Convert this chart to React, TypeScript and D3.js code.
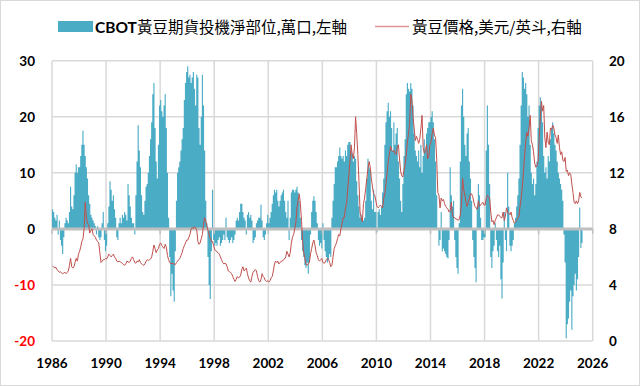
import React from "react";
import * as d3 from "d3";

// ---- DATA (monthly, starting Jan 1986) ----
const startYear = 1986;

// CBOT soybean speculative net position, 10k contracts (left axis)
const netPositions: number[] = [
  3.5, 3, 2, 1.5, 2.5, -1, 1.5, -2, -3, -4.5, -1.5, 1, // 1986
  2, 1.5, 1, 3, 7.5, 4, 3.5, 6, 10, 11.5, 10, 11, // 1987
  11, 13, 15, 17.5, 15, 13, 11, 9, 6, 4.5, 2.5, 2, // 1988
  1.5, 1, 0.5, -1, 0.5, -1.5, -2, -1.5, 1, 3, -2, -4, // 1989
  -3, 1, 4, 8.5, 7, 5, 6, 3.5, 2, -1.5, -2, 1, // 1990
  2, 1, 2.5, 2, 3, 2.5, 1.5, 8, 6, 4, 2, 1, // 1991
  1, -1, 6, 12, 18.5, 14, 11, 6, 3, 2.5, 5, 7.5, // 1992
  8, 10, 13, 16, 19, 24, 26, 18, 12, 9, 15, 22, // 1993
  23, 21, 20, 22, 24, 18, 10, 2, -5, -12, -8, -11, // 1994
  -13, -4, 5, 10, 11, 12, 14, 16, 18, 23, 26, 28, // 1995
  29, 27, 27.5, 26, 27, 28, 25, 22, 27.5, 27, 18, 15, // 1996
  20, 27.5, 22, 14, 5, 1, -5, -10, -12.5, -4, 7, -2, // 1997
  -3, -2.5, -3, -2, -1.5, -3, -2.5, -2, -1, -2, 2, -1.5, // 1998
  -2, -2.5, -2, -1.5, -2.5, -2, -1, 1.5, 2, 1.5, 3, 4.5, // 1999
  4.5, 3, 2, 1.5, -1, 2.5, 3, 2, 2.5, 1.5, -2.5, -2, // 2000
  -1.5, 1, 1.5, 2, 2, 4.3, 1.5, -1.5, -2, -1, 1, 2.5, // 2001
  1, 2, 3, 4.5, 6, 7, 6.5, 7, 5, 4, 5, 6, // 2002
  6.5, 7, 5, 3, 2, 5, -2, 2, 6.5, 7, 7, 6.5, // 2003
  7, 7.5, 6.5, 5, 2, -2, -4, -5, -6.5, -7, -6, -8, // 2004
  -6, -1, 3, 5, 5.8, 5, 3, 1, -2, -3, -2.5, -3.5, // 2005
  1, -2, -4, -5, -6, -5.5, -4.5, -5, 2, 5, 8, 11, // 2006
  11, 12, 13, 14.5, 13, 12.5, 13, 12, 14, 13, 15, 15.5, // 2007
  15.5, 14, 13.5, 12, 13, 12.5, 8.5, 6, 4, 2, 2.5, 2, // 2008
  1.5, 2, 5, 9, 12.5, 11, 10.5, 5, 3.5, 7, 3, 3, // 2009
  -0.5, 3, 3.5, 2.5, 4, 6.5, 9, 15, 19, 21, 22.5, 20, // 2010
  21, 18, 14, 19, 15, 17, 18, 12, 9, 5, 3, 8, // 2011
  13, 16, 24, 26, 25, 24.5, 26, 25, 22, 17, 14, 13, // 2012
  12, 14, 11, 15, 10, 13, 16, 14, 17, 18, 19, 19, // 2013
  20, 21, 19, 16, 12, 6, 0, -3, -2, 3, -4, -3.5, // 2014
  -4, -4.5, -5, -5.3, -2, 11, 6, 4, 5, -2, -5, -7, // 2015
  -8, 1, 12, 22, 25, 20, 15, 13, 17, 18, 12, 9, // 2016
  5, -2, -5, -7, -9.5, 4, 8, 6, 2, -2, -2, -1.5, // 2017
  -1.5, 14, 22, 15, 8, -5, -7, -4, -3, 1, -2, -4, // 2018
  -5, -3, -9, -12.4, -6, 3, -2, -4, 10, 4, -3, -4, // 2019
  -3, -2, 1, 2, 4, 6, 9, 15, 22, 28, 27, 25, // 2020
  26, 24, 20, 22, 15, 10, 8, 9, 6, 8, 12, 18, // 2021
  22, 23.5, 22, 19, 13, 10, 11, 9, 13, 12, 16, 18, // 2022
  19, 17, 15, 14, 12, 10, 9, 8, 7, 5, -1, -6, // 2023
  -19.5, -17, -16, -13, -11, -18, -12, -10, -8, -11, -9, -5, // 2024
  3.8, -3.4, -2.5, // 2025
];

// Soybean price, USD per bushel (right axis)
const soyPrices: number[] = [
  5.35, 5.3, 5.2, 5.25, 5.1, 5.0, 4.9, 4.95, 4.85, 4.8, 4.85, 4.9, // 1986
  4.8, 4.9, 5.0, 5.4, 5.9, 5.3, 5.2, 5.3, 5.6, 5.9, 5.7, 6.2, // 1987
  6.4, 6.7, 7.1, 7.3, 8.0, 9.9, 8.8, 8.4, 8.3, 7.7, 7.9, 8.0, // 1988
  7.6, 7.5, 7.4, 7.2, 7.1, 7.0, 6.3, 5.6, 5.7, 5.8, 5.8, 5.9, // 1989
  5.85, 6.0, 6.2, 6.1, 6.0, 6.1, 6.2, 6.0, 5.9, 5.7, 5.65, 5.7, // 1990
  5.65, 5.6, 5.55, 5.45, 5.4, 5.5, 5.7, 5.65, 5.6, 5.7, 5.9, 6.0, // 1991
  5.8, 5.6, 5.55, 5.7, 5.65, 5.8, 5.6, 5.5, 5.45, 5.4, 5.5, 5.7, // 1992
  5.8, 5.75, 5.8, 5.85, 6.0, 6.4, 6.85, 6.6, 6.3, 6.5, 6.6, 6.9, // 1993
  7.0, 6.8, 6.7, 6.6, 6.9, 6.7, 6.1, 5.8, 5.6, 5.5, 5.55, 5.5, // 1994
  5.5, 5.45, 5.6, 5.7, 5.8, 5.9, 6.1, 6.3, 6.6, 6.8, 7.0, 7.2, // 1995
  7.2, 7.4, 7.6, 8.0, 8.1, 8.0, 8.15, 8.1, 7.9, 7.1, 6.9, 7.0, // 1996
  7.3, 7.6, 8.3, 8.8, 8.6, 8.2, 7.9, 7.6, 7.3, 7.1, 7.1, 6.8, // 1997
  6.5, 6.45, 6.35, 6.3, 6.2, 6.0, 5.8, 5.6, 5.5, 5.55, 5.5, 5.3, // 1998
  5.0, 4.95, 4.9, 4.8, 4.6, 4.4, 4.25, 4.4, 4.6, 4.5, 4.55, 4.7, // 1999
  5.1, 5.3, 5.0, 5.1, 5.2, 4.8, 4.5, 4.3, 4.2, 4.6, 4.9, 5.0, // 2000
  5.1, 5.0, 4.6, 4.3, 4.2, 4.4, 4.8, 4.6, 4.5, 4.3, 4.25, 4.3, // 2001
  4.2, 4.3, 4.5, 4.6, 5.0, 5.5, 5.7, 5.6, 5.7, 5.5, 5.6, 5.7, // 2002
  5.7, 5.8, 5.85, 6.0, 6.4, 6.2, 6.0, 6.3, 7.0, 7.4, 7.6, 8.0, // 2003
  8.5, 9.5, 10.0, 10.5, 9.8, 8.6, 7.1, 6.3, 5.9, 5.5, 5.4, 5.5, // 2004
  5.6, 6.2, 6.6, 7.0, 7.2, 6.8, 6.3, 6.1, 5.8, 5.7, 5.8, 5.9, // 2005
  5.6, 5.55, 5.6, 5.8, 5.9, 5.8, 5.6, 5.3, 5.4, 6.0, 6.6, 6.8, // 2006
  7.0, 7.3, 7.6, 7.5, 8.0, 8.4, 8.8, 8.8, 9.5, 9.8, 10.8, 11.8, // 2007
  12.8, 14.0, 13.3, 13.0, 13.8, 16.0, 14.8, 13.3, 11.4, 9.2, 8.8, 8.5, // 2008
  9.8, 10.2, 10.9, 11.6, 12.3, 12.8, 12.4, 11.6, 11.0, 10.5, 10.4, 10.0, // 2009
  9.6, 9.5, 9.6, 9.7, 9.6, 9.5, 10.2, 10.5, 11.2, 12.0, 12.8, 13.3, // 2010
  13.9, 13.6, 13.5, 13.6, 13.4, 13.3, 13.8, 14.0, 13.0, 12.1, 11.8, 11.7, // 2011
  12.2, 12.6, 13.3, 14.2, 14.8, 15.5, 17.6, 17.2, 16.0, 15.2, 14.3, 14.6, // 2012
  14.4, 14.1, 14.4, 15.2, 16.1, 13.8, 13.4, 13.6, 14.0, 13.0, 13.2, 14.0, // 2013
  14.2, 14.8, 15.2, 14.7, 14.5, 13.0, 10.6, 10.4, 9.5, 10.2, 10.0, 10.1, // 2014
  9.8, 9.6, 9.5, 9.4, 9.2, 9.3, 9.9, 9.0, 8.8, 8.8, 8.7, 8.7, // 2015
  8.6, 8.7, 9.0, 9.8, 11.6, 10.8, 10.4, 9.9, 9.6, 9.9, 10.2, 10.5, // 2016
  10.5, 10.3, 9.9, 9.6, 9.5, 9.4, 10.0, 9.6, 9.7, 9.8, 9.9, 9.7, // 2017
  9.7, 10.2, 10.4, 10.3, 10.2, 9.2, 8.5, 8.6, 8.3, 8.6, 8.8, 9.0, // 2018
  9.0, 8.9, 8.8, 8.8, 9.2, 8.6, 8.9, 9.5, 9.2, 9.1, 9.0, 9.2, // 2019
  8.8, 8.6, 8.4, 8.5, 8.6, 8.75, 8.9, 9.6, 10.2, 11.0, 12.0, 13.2, // 2020
  14.2, 14.9, 14.6, 15.2, 16.1, 14.3, 14.0, 13.5, 12.7, 12.4, 12.5, 12.8, // 2021
  14.5, 15.9, 17.1, 16.4, 16.8, 14.5, 13.8, 14.9, 14.2, 14.0, 15.2, 15.1, // 2022
  15.4, 15.2, 14.7, 14.5, 14.1, 14.7, 13.8, 13.3, 13.5, 12.9, 12.8, 13.1, // 2023
  12.1, 12.2, 11.8, 12.0, 11.9, 11.2, 10.6, 9.9, 9.8, 10.0, 9.8, 10.0, // 2024
  10.6, 10.3, 10.2, // 2025
];

const leftTicks = [-20, -10, 0, 10, 20, 30];
const rightTicks = [0, 4, 8, 12, 16, 20];
const yearTicks = [1986, 1990, 1994, 1998, 2002, 2006, 2010, 2014, 2018, 2022, 2026];

const legendBarLabel = "黃豆期貨投機淨部位,萬口,左軸";
const legendBarPrefix = "CBOT";
const legendLineLabel = "黃豆價格,美元/英斗,右軸";

// ---- LAYOUT ----
const W = 640;
const H = 386;
const L = 52;
const R = 592.7;
const T = 60.7;
const B = 341;

const BAR_COLOR = "#4bacc6";
const LINE_COLOR = "#c0504d";
const GRID = "#d9d9d9";
const NUM_FONT = "Lato, 'Liberation Sans', sans-serif";
const CJK_FONT = "'Noto Sans CJK TC', 'Noto Sans CJK SC', sans-serif";

export default function App() {
  const x = d3.scaleLinear().domain([1986, 2026]).range([L, R]);
  const yL = d3.scaleLinear().domain([-20, 30]).range([B, T]);
  const yR = d3.scaleLinear().domain([0, 20]).range([B, T]);
  const y0 = yL(0);

  // monthly bars drawn as one stepped shape so neighbouring bars join without seams
  const barData = [...netPositions, netPositions[netPositions.length - 1]];
  const bars = d3
    .area<number>()
    .curve(d3.curveStepAfter)
    .x((_, i) => x(startYear + i / 12))
    .y0(y0)
    .y1((d) => yL(d));

  const line = d3
    .line<number>()
    .x((_, i) => x(startYear + (i + 0.5) / 12))
    .y((d) => yR(d));

  return (
    <>
      <style>{`body{margin:0;background:#fff}`}</style>
      <svg width={W} height={H} style={{ display: "block" }}>
        <rect x={0.5} y={0.5} width={W - 1} height={H - 1} fill="#fff" stroke="#d9d9d9" />

        {/* legend */}
        <rect x={58} y={21} width={35} height={11} fill={BAR_COLOR} />
        <text x={95} y={33} fontSize={15.5} fill="#000">
          <tspan fontFamily={NUM_FONT} fontWeight={700}>{legendBarPrefix}</tspan>
          <tspan fontFamily={CJK_FONT}>{legendBarLabel}</tspan>
        </text>
        <line x1={375} x2={409} y1={26.5} y2={26.5} stroke={LINE_COLOR} strokeOpacity={0.6} strokeWidth={1.5} />
        <text x={412} y={33} fontSize={15.5} fontFamily={CJK_FONT} fill="#000">
          {legendLineLabel}
        </text>

        {/* gridlines */}
        {leftTicks.map((t) => (
          <line key={"h" + t} x1={L} x2={R} y1={yL(t)} y2={yL(t)} stroke={GRID} strokeWidth={1.5} />
        ))}
        {yearTicks.map((t) => (
          <line key={"v" + t} x1={x(t)} x2={x(t)} y1={T} y2={B} stroke={GRID} strokeWidth={1.5} />
        ))}

        {/* bars */}
        <path d={bars(barData) || ""} fill={BAR_COLOR} stroke="none" />

        {/* zero axis */}
        <line x1={L} x2={R} y1={y0} y2={y0} stroke="#bfbfbf" strokeWidth={3} />
        {yearTicks.map((t) => (
          <line key={"t" + t} x1={x(t)} x2={x(t)} y1={y0} y2={y0 + 5} stroke="#bfbfbf" strokeWidth={1.5} />
        ))}

        {/* price line */}
        <path d={line(soyPrices) || ""} fill="none" stroke={LINE_COLOR} strokeWidth={1} />

        {/* left axis labels */}
        {leftTicks.map((t) => (
          <text
            key={"l" + t}
            x={35}
            y={yL(t) + 4.8}
            textAnchor="end"
            fontFamily={NUM_FONT}
            fontWeight={700}
            fontSize={13.5}
            fill={t < 0 ? "#ff0000" : "#000"}
          >
            {t}
          </text>
        ))}
        {/* right axis labels */}
        {rightTicks.map((t) => (
          <text
            key={"r" + t}
            x={609}
            y={yR(t) + 4.8}
            textAnchor="start"
            fontFamily={NUM_FONT}
            fontWeight={700}
            fontSize={13.5}
            fill="#000"
          >
            {t}
          </text>
        ))}
        {/* x axis labels */}
        {yearTicks.map((t) => (
          <text
            key={"x" + t}
            x={x(t)}
            y={367.5}
            textAnchor="middle"
            fontFamily={NUM_FONT}
            fontWeight={700}
            fontSize={13.5}
            fill="#000"
          >
            {t}
          </text>
        ))}
      </svg>
    </>
  );
}
